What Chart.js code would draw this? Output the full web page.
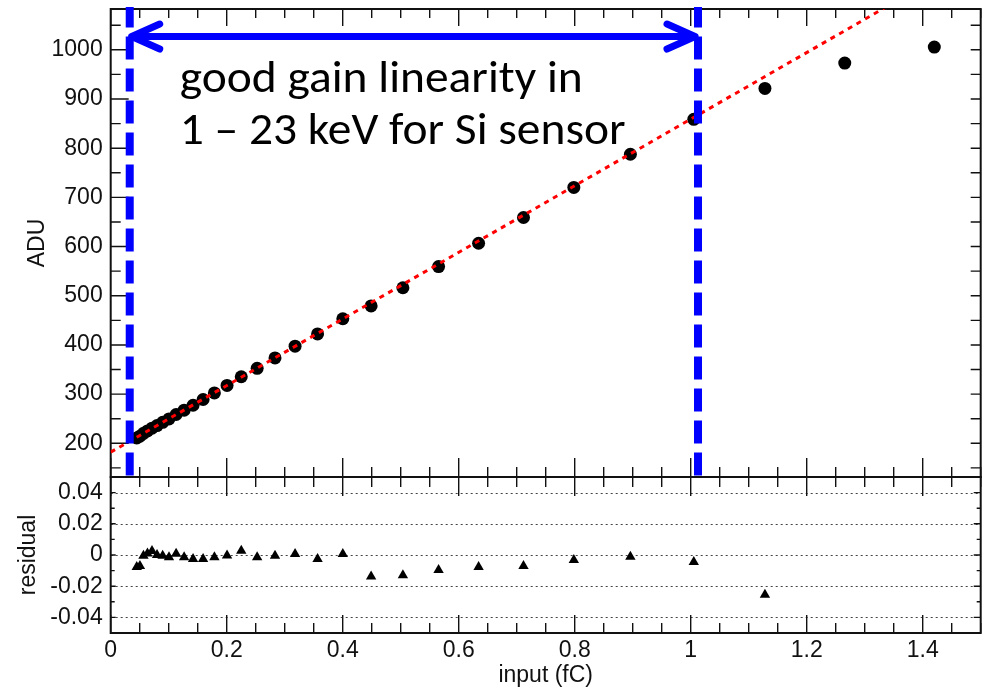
<!DOCTYPE html>
<html>
<head>
<meta charset="utf-8">
<script src="https://cdn.jsdelivr.net/npm/chart.js@4.4.1/dist/chart.umd.min.js"></script>
<style>
  html, body { margin: 0; padding: 0; background: #fff; }
  #wrap { position: relative; width: 987px; height: 690px; overflow: hidden; background: #fff; }
  #cTop { position: absolute; left: 0; top: 0; }
  #cBot { position: absolute; left: 0; top: 470px; }
</style>
</head>
<body>
<div id="wrap">
  <canvas id="cTop" width="987" height="478"></canvas>
  <canvas id="cBot" width="987" height="220"></canvas>
</div>
<script>
// ---------------- data ----------------
const inputFC = [0.0449, 0.0504, 0.0565, 0.0634, 0.0712, 0.0799, 0.0896, 0.1005, 0.1128, 0.1266,
                 0.1420, 0.1593, 0.1788, 0.2006, 0.2251, 0.2525, 0.2833, 0.3179, 0.3567, 0.4002,
                 0.4490, 0.5038, 0.5653, 0.6343, 0.7117, 0.7985, 0.8960, 1.0053, 1.1280, 1.2656, 1.4200];
const aduValues = [210.8, 214.6, 220.2, 225.1, 230.8, 236.1, 242.6, 249.6, 258.6, 267.3,
                   277.4, 289.1, 302.5, 317.7, 335.3, 352.4, 373.6, 397.4, 422.4, 453.2,
                   479.3, 516.3, 559.3, 606.7, 659.1, 720.3, 787.7, 858.7, 921.6, 973.0, 1005.5];
const residualInput = [0.0449, 0.0504, 0.0565, 0.0634, 0.0712, 0.0799, 0.0896, 0.1005, 0.1128, 0.1266,
                       0.1420, 0.1593, 0.1788, 0.2006, 0.2251, 0.2525, 0.2833, 0.3179, 0.3567, 0.4002,
                       0.4490, 0.5038, 0.5653, 0.6343, 0.7117, 0.7985, 0.8960, 1.0053, 1.1280];
const residualValues = [-0.0077, -0.0070, -0.0005, 0.0010, 0.0025, 0.0000, -0.0005, -0.0015, 0.0008, -0.0015,
                        -0.0025, -0.0025, -0.0015, -0.0004, 0.0027, -0.0015, -0.0005, 0.0006, -0.0025, 0.0006,
                        -0.0138, -0.0130, -0.0096, -0.0077, -0.0071, -0.0032, -0.0011, -0.0045, -0.0255];
const fitIntercept = 182;   // ADU at 0 fC
const fitSlope = 677;       // ADU per fC
const fitRangeFC = [0, 1.5];

const xTickValues = [0, 0.2, 0.4, 0.6, 0.8, 1.0, 1.2, 1.4];
const xTickLabels = ['0', '0.2', '0.4', '0.6', '0.8', '1', '1.2', '1.4'];
const aduTickValues = [200, 300, 400, 500, 600, 700, 800, 900, 1000];
const aduTickLabels = ['200', '300', '400', '500', '600', '700', '800', '900', '1000'];
const resTickValues = [-0.04, -0.02, 0, 0.02, 0.04];
const resTickLabels = ['-0.04', '-0.02', '0', '0.02', '0.04'];

const rangeLimitsFC = [0.0328, 1.0126];   // blue dashed markers (1 keV, 23 keV)
const arrowADU = 1027;
const noteLines = ['good gain linearity in', '1 \u2013 23 keV for Si sensor'];

// ---------------- styling helpers ----------------
const AXIS_FONT = '"Liberation Sans", Arial, Helvetica, sans-serif';
const INK = '#111';

const rootFrame = {
  id: 'rootFrame',
  beforeDatasetsDraw(chart, args, o) {
    const { ctx, chartArea: a, scales } = chart;
    const xs = scales.x, ys = scales.y;
    ctx.save();
    if (o.dotted) {
      ctx.setLineDash([2, 3]);
      ctx.strokeStyle = '#444';
      ctx.lineWidth = 1;
      o.yMajor.forEach(v => {
        const y = Math.round(ys.getPixelForValue(v)) + 0.5;
        ctx.beginPath(); ctx.moveTo(a.left, y); ctx.lineTo(a.right, y); ctx.stroke();
      });
    }
    ctx.setLineDash([]);
    ctx.strokeStyle = INK;
    ctx.lineWidth = 1.4;
    const isMajor = (v, arr) => arr.some(m => Math.abs(m - v) < 1e-9);
    const minors = (min, max, step, arr) => {
      const out = [];
      for (let k = Math.ceil(min / step - 1e-9); k * step <= max + 1e-9; k++) {
        const v = +(k * step).toFixed(6);
        if (!isMajor(v, arr)) out.push(v);
      }
      return out;
    };
    const xMin = minors(xs.min, xs.max, o.xMinorStep, o.xMajor);
    const yMin = minors(ys.min, ys.max, o.yMinorStep, o.yMajor);
    ctx.beginPath();
    const xt = (v, lt, lb) => {
      const x = xs.getPixelForValue(v);
      if (x < a.left - 0.5 || x > a.right + 0.5) return;
      ctx.moveTo(x, a.top); ctx.lineTo(x, a.top + lt);
      ctx.moveTo(x, a.bottom); ctx.lineTo(x, a.bottom - lb);
    };
    o.xMajor.forEach(v => xt(v, o.xTopMajor, o.xBotMajor));
    xMin.forEach(v => xt(v, o.xTopMinor, o.xBotMinor));
    const yt = (v, ll, lr) => {
      const y = ys.getPixelForValue(v);
      if (y < a.top - 0.5 || y > a.bottom + 0.5) return;
      ctx.moveTo(a.left, y); ctx.lineTo(a.left + ll, y);
      ctx.moveTo(a.right, y); ctx.lineTo(a.right - lr, y);
    };
    o.yMajor.forEach(v => yt(v, o.yLeftMajor, o.yRightMajor));
    yMin.forEach(v => yt(v, o.yLeftMinor, o.yRightMinor));
    ctx.stroke();
    ctx.lineWidth = 2;
    ctx.strokeStyle = INK;
    ctx.strokeRect(a.left, a.top, a.right - a.left, a.bottom - a.top);
    ctx.restore();
  }
};

const annotations = {
  id: 'annotations',
  afterDatasetsDraw(chart) {
    const { ctx, chartArea: a, scales } = chart;
    const xs = scales.x, ys = scales.y;
    ctx.save();
    ctx.strokeStyle = '#0000ff';
    ctx.lineWidth = 8;
    ctx.setLineDash([23, 9]);
    ctx.lineDashOffset = 2.5;
    ctx.lineCap = 'butt';
    rangeLimitsFC.forEach(v => {
      const x = xs.getPixelForValue(v);
      ctx.beginPath(); ctx.moveTo(x, a.top - 2); ctx.lineTo(x, a.bottom - 1); ctx.stroke();
    });
    ctx.setLineDash([]);
    ctx.lineWidth = 7;
    ctx.lineCap = 'round';
    ctx.lineJoin = 'round';
    const y = ys.getPixelForValue(arrowADU);
    const xl = xs.getPixelForValue(rangeLimitsFC[0]) + 2;
    const xr = xs.getPixelForValue(rangeLimitsFC[1]) - 3;
    ctx.beginPath();
    ctx.moveTo(xl, y); ctx.lineTo(xr, y);
    ctx.moveTo(xl + 28, y - 12.5); ctx.lineTo(xl, y); ctx.lineTo(xl + 28, y + 12.5);
    ctx.moveTo(xr - 28, y - 12.5); ctx.lineTo(xr, y); ctx.lineTo(xr - 28, y + 12.5);
    ctx.stroke();
    ctx.fillStyle = '#000';
    ctx.font = '46px Carlito, Lato, "Open Sans", sans-serif';
    ctx.textBaseline = 'alphabetic';
    ctx.textAlign = 'left';
    const w1 = ctx.measureText(noteLines[0]).width;
    const sx = 403 / w1;
    const tx = xl + 48;
    [[noteLines[0], 91.5], [noteLines[1], 143.5]].forEach(([t, by]) => {
      ctx.save();
      ctx.translate(tx, by);
      ctx.scale(sx, 1);
      ctx.fillText(t, 0, 0);
      ctx.restore();
    });
    ctx.restore();
  }
};

const commonTickFont = { family: AXIS_FONT, size: 23 };
const titleFont = { family: AXIS_FONT, size: 23 };

const fitY = (w) => s => { s.width = w; s.paddingTop = 0; s.paddingBottom = 0; };
const fitX = (h) => s => { s.height = h; s.paddingLeft = 0; s.paddingRight = 0; };

// ---------------- top chart: ADU vs input ----------------
new Chart(document.getElementById('cTop'), {
  type: 'scatter',
  data: {
    datasets: [
      {
        label: 'fit',
        type: 'line',
        data: fitRangeFC.map(x => ({ x, y: fitIntercept + fitSlope * x })),
        borderColor: '#ff0000',
        borderWidth: 3,
        borderDash: [5, 5],
        pointRadius: 0,
        fill: false,
        tension: 0
      },
      {
        label: 'ADU',
        data: inputFC.map((x, i) => ({ x, y: aduValues[i] })),
        backgroundColor: '#000',
        borderColor: '#000',
        borderWidth: 0,
        pointRadius: 6.5,
        pointStyle: 'circle',
        showLine: false
      }
    ]
  },
  options: {
    responsive: false,
    animation: false,
    events: [],
    layout: { autoPadding: false, padding: { left: 0, right: 6.3, top: 9, bottom: 1 } },
    plugins: {
      legend: { display: false },
      tooltip: { enabled: false },
      rootFrame: {
        dotted: false,
        xMajor: xTickValues, xMinorStep: 0.05,
        yMajor: aduTickValues, yMinorStep: 50,
        xTopMajor: 17, xTopMinor: 9, xBotMajor: 19, xBotMinor: 10,
        yLeftMajor: 18, yLeftMinor: 10, yRightMajor: 10, yRightMinor: 10
      }
    },
    scales: {
      x: { type: 'linear', min: 0, max: 1.5, display: false },
      y: {
        type: 'linear', min: 131.5, max: 1083,
        afterBuildTicks: s => { s.ticks = aduTickValues.map(v => ({ value: v })); },
        afterFit: fitY(110.7),
        grid: { display: false, drawTicks: false },
        border: { display: false },
        ticks: {
          padding: 8, color: INK, font: commonTickFont,
          callback: (v, i) => aduTickLabels[i]
        },
        title: { display: true, text: 'ADU', color: INK, font: titleFont, padding: { top: 24, bottom: 0 } }
      }
    }
  },
  plugins: [rootFrame, annotations]
});

// ---------------- bottom chart: residual ----------------
new Chart(document.getElementById('cBot'), {
  type: 'scatter',
  data: {
    datasets: [
      {
        label: 'residual',
        data: residualInput.map((x, i) => ({ x, y: residualValues[i] })),
        backgroundColor: '#000',
        borderColor: '#000',
        borderWidth: 0,
        pointRadius: 6,
        pointStyle: 'triangle'
      }
    ]
  },
  options: {
    responsive: false,
    animation: false,
    events: [],
    layout: { autoPadding: false, padding: { left: 0, right: 6.3, top: 7, bottom: 0 } },
    plugins: {
      legend: { display: false },
      tooltip: { enabled: false },
      rootFrame: {
        dotted: true,
        xMajor: xTickValues, xMinorStep: 0.05,
        yMajor: resTickValues, yMinorStep: 0.01,
        xTopMajor: 19, xTopMinor: 10, xBotMajor: 18, xBotMinor: 10,
        yLeftMajor: 5, yLeftMinor: 4, yRightMajor: 7, yRightMinor: 4
      }
    },
    scales: {
      x: {
        type: 'linear', min: 0, max: 1.5,
        afterBuildTicks: s => { s.ticks = xTickValues.map(v => ({ value: v })); },
        afterFit: fitX(57),
        grid: { display: false, drawTicks: false },
        border: { display: false },
        ticks: {
          padding: 4, color: INK, font: commonTickFont, maxRotation: 0, autoSkip: false,
          callback: (v, i) => xTickLabels[i]
        },
        title: { display: true, text: 'input (fC)', color: INK, font: titleFont, padding: { top: 0, bottom: 1 } }
      },
      y: {
        type: 'linear', min: -0.05, max: 0.05,
        afterBuildTicks: s => { s.ticks = resTickValues.map(v => ({ value: v })); },
        afterFit: fitY(110.7),
        grid: { display: false, drawTicks: false },
        border: { display: false },
        ticks: {
          padding: 8, color: INK, font: commonTickFont,
          callback: (v, i) => resTickLabels[i]
        },
        title: { display: true, text: 'residual', color: INK, font: titleFont, padding: { top: 15, bottom: 0 } }
      }
    }
  },
  plugins: [rootFrame]
});
</script>
</body>
</html>
